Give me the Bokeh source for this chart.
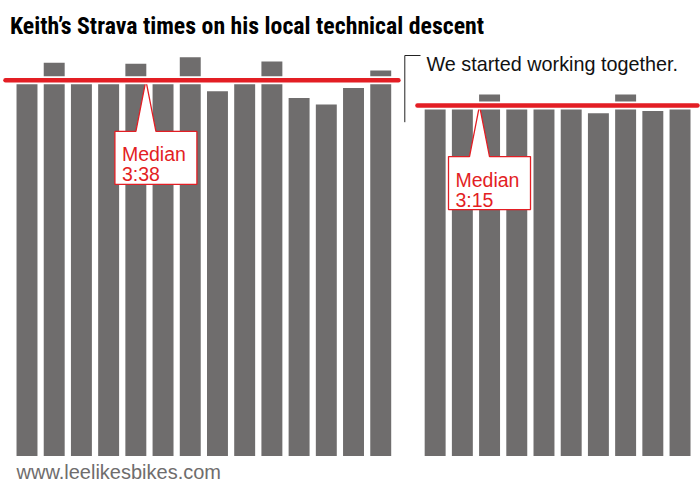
from bokeh.plotting import figure
from bokeh.models import Range1d
from bokeh.core.properties import value
from bokeh.embed import file_html
from bokeh.resources import INLINE

# ---------------- data ----------------
TITLE = "Keith’s Strava times on his local technical descent"
FOOTER = "www.leelikesbikes.com"
NOTE = "We started working together."

before_times = ["3:38", "3:54", "3:38", "3:37", "3:53", "3:38", "3:59",
                "3:28", "3:38", "3:55", "3:22", "3:16", "3:31", "3:47"]
after_times = ["3:15", "3:15", "3:25", "3:15", "3:15", "3:15", "3:08",
               "3:25", "3:10", "3:15"]
before_median = "3:38"
after_median = "3:15"
median_label = "Median"


def to_sec(s):
    m, sec = s.split(":")
    return int(m) * 60 + int(sec)


before_sec = [to_sec(t) for t in before_times]
after_sec = [to_sec(t) for t in after_times]
before_x = list(range(len(before_sec)))
gap_x = len(before_sec)                       # empty slot between groups
after_x = [gap_x + 1 + i for i in range(len(after_sec))]

# ---------------- layout / scales ----------------
W, H = 700, 484
PX_PER_SLOT = 27.21
PX_PER_SEC = 1.1
X0 = -26.5 / PX_PER_SLOT        # slot value at canvas left edge
Y_TOP = 319.6 / PX_PER_SEC      # seconds at canvas top edge
Y_BOTTOM = Y_TOP - H / PX_PER_SEC
BAR_FLOOR = Y_TOP - 455.5 / PX_PER_SEC
X1 = X0 + W / PX_PER_SLOT


def cx(px):
    return X0 + px / PX_PER_SLOT


def cy(py):
    return Y_TOP - py / PX_PER_SEC


GRAY = "#6f6d6d"
RED = "#e31e24"
FONT = "Liberation Sans"

p = figure(width=W, height=H, output_backend="svg", toolbar_location=None,
           x_range=Range1d(X0, X1), y_range=Range1d(Y_BOTTOM, Y_TOP),
           x_axis_type=None, y_axis_type=None, min_border=0,
           outline_line_color=None, background_fill_color="white",
           border_fill_color="white")
p.grid.visible = False

# bars
p.vbar(x=before_x, top=before_sec, bottom=BAR_FLOOR, width=0.77,
       fill_color=GRAY, line_color=None)
p.vbar(x=after_x, top=after_sec, bottom=BAR_FLOOR, width=0.77,
       fill_color=GRAY, line_color=None)

# callouts (pointer + box), offsets in pixels relative to the apex
box_shape = [(-31, 51), (-10, 51), (0, 0), (10, 51), (51, 51), (51, 104), (-31, 104)]
callouts = [
    (before_x[4] + 0.37, to_sec(before_median), before_median),
    (after_x[2] - 0.37, to_sec(after_median), after_median),
]
for ax, ay, lab in callouts:
    xs = [ax + ox / PX_PER_SLOT for ox, oy in box_shape]
    ys = [ay - oy / PX_PER_SEC for ox, oy in box_shape]
    p.patch(xs, ys, fill_color="white", line_color=RED, line_width=1.3)
    p.text(x=[ax - 24 / PX_PER_SLOT, ax - 24 / PX_PER_SLOT],
           y=[ay - 74 / PX_PER_SEC, ay - 94 / PX_PER_SEC],
           text=[median_label, lab], text_color=RED,
           text_font=value(FONT), text_font_size="19.5px",
           text_baseline="alphabetic", text_align="left")

# median lines (white halo + red line)
med_lines = [
    (before_x[0] - 0.79, before_x[-1] + 0.65, to_sec(before_median)),
    (after_x[0] - 0.65, after_x[-1] + 0.64, to_sec(after_median)),
]
for x_a, x_b, m in med_lines:
    p.line([x_a, x_b], [m, m], line_color="white", line_width=8,
           line_cap="round")
    p.line([x_a, x_b], [m, m], line_color=RED, line_width=4.5,
           line_cap="round")

# annotation bracket
bx = cx(404.3)
p.line([cx(420), bx, bx], [cy(55), cy(55), cy(121.7)],
       line_color="#222222", line_width=1)
p.text(x=[cx(426)], y=[cy(63.3)], text=[NOTE], text_color="#111111",
       text_font=value(FONT), text_font_size="19.8px",
       text_baseline="alphabetic", text_align="left")

# title
p.text(x=[cx(9.5)], y=[cy(25)], text=[TITLE], text_color="black",
       text_font=value("Roboto Condensed"), text_font_style="bold",
       text_font_size="23.8px", text_baseline="alphabetic", text_align="left")

# footer
p.text(x=[cx(16)], y=[cy(471.5)], text=[FOOTER], text_color=GRAY,
       text_font=value(FONT), text_font_size="20px",
       text_baseline="alphabetic", text_align="left")

open("out.html", "w").write(file_html(p, INLINE))
